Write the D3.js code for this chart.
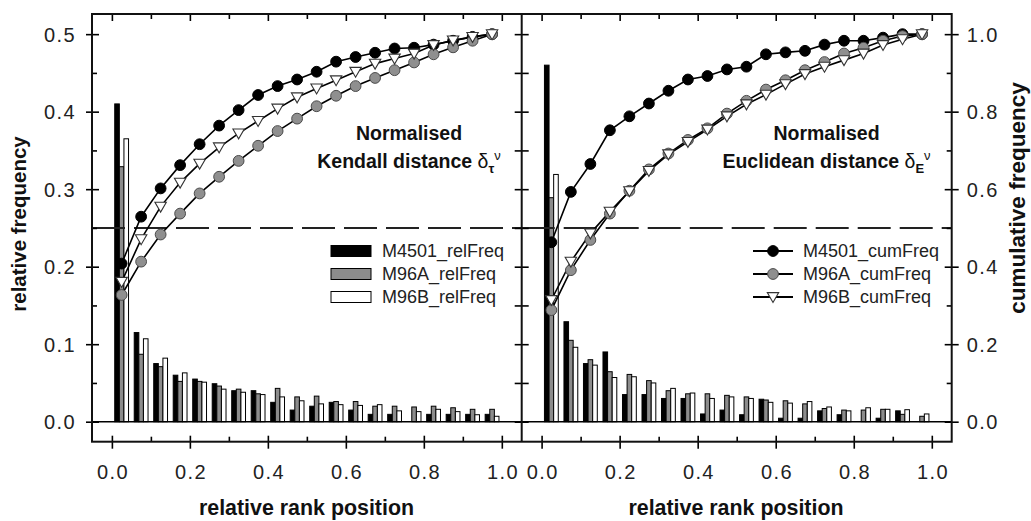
<!DOCTYPE html>
<html>
<head>
<meta charset="utf-8">
<script src="https://cdn.jsdelivr.net/npm/d3@7/dist/d3.min.js"></script>
<style>
  html, body { margin: 0; padding: 0; background: #fff; }
  svg { display: block; font-family: "Liberation Sans", Arial, Helvetica, sans-serif; }
</style>
</head>
<body>
<svg id="chart" width="1031" height="521"></svg>
<script>
// ---------------- data ----------------
const rankPos = [0.025, 0.075, 0.125, 0.175, 0.225, 0.275, 0.325, 0.375, 0.425, 0.475,
                 0.525, 0.575, 0.625, 0.675, 0.725, 0.775, 0.825, 0.875, 0.925, 0.975];

const seriesNames = ["M4501", "M96A", "M96B"];
const xTicks = [0, 0.2, 0.4, 0.6, 0.8, 1.0];
const relTicks = [0, 0.1, 0.2, 0.3, 0.4, 0.5];
const cumTicks = [0, 0.2, 0.4, 0.6, 0.8, 1.0];

// Kendall distance panel
const kenM4501Rel = [0.410, 0.115, 0.075, 0.060, 0.055, 0.049, 0.040, 0.040, 0.025, 0.015,
                     0.020, 0.025, 0.015, 0.0095, 0.0095, 0, 0.0095, 0.0095, 0.0095, 0.0095];
const kenM96ARel  = [0.329, 0.087, 0.071, 0.052, 0.052, 0.046, 0.042, 0.036, 0.043, 0.032,
                     0.033, 0.026, 0.026, 0.020, 0.020, 0.019, 0.020, 0.018, 0.016, 0.016];
const kenM96BRel  = [0.365, 0.107, 0.082, 0.063, 0.051, 0.042, 0.038, 0.035, 0.032, 0.027,
                     0.023, 0.022, 0.021, 0.022, 0.014, 0.013, 0.016, 0.013, 0.009, 0.007];
const kenM4501Cum = [0.408, 0.529, 0.602, 0.662, 0.716, 0.764, 0.804, 0.843, 0.866, 0.883,
                     0.903, 0.929, 0.941, 0.952, 0.963, 0.965, 0.973, 0.983, 0.993, 1.000];
const kenM96ACum  = [0.327, 0.413, 0.483, 0.537, 0.589, 0.632, 0.673, 0.712, 0.750, 0.782,
                     0.814, 0.841, 0.866, 0.887, 0.907, 0.927, 0.948, 0.966, 0.983, 1.000];
const kenM96BCum  = [0.361, 0.471, 0.555, 0.617, 0.666, 0.708, 0.744, 0.776, 0.808, 0.837,
                     0.860, 0.881, 0.903, 0.924, 0.937, 0.950, 0.972, 0.984, 0.993, 1.000];

// Euclidean distance panel
const eucM4501Rel = [0.460, 0.129, 0.075, 0.090, 0.035, 0.035, 0.030, 0.030, 0.010, 0.015,
                     0.009, 0.029, 0.0045, 0.0045, 0.014, 0.009, 0, 0.0045, 0.014, 0];
const eucM96ARel  = [0.289, 0.105, 0.080, 0.0645, 0.061, 0.053, 0.040, 0.036, 0.036, 0.034,
                     0.032, 0.028, 0.027, 0.023, 0.017, 0.015, 0.015, 0.016, 0.0095, 0.007];
const eucM96BRel  = [0.319, 0.096, 0.073, 0.057, 0.058, 0.050, 0.043, 0.037, 0.030, 0.032,
                     0.030, 0.025, 0.024, 0.026, 0.019, 0.014, 0.018, 0.016, 0.0155, 0.010];
const eucM4501Cum = [0.463, 0.593, 0.665, 0.752, 0.788, 0.821, 0.854, 0.883, 0.892, 0.909,
                     0.916, 0.948, 0.953, 0.957, 0.973, 0.983, 0.983, 0.991, 1.000, 1.000];
const eucM96ACum  = [0.288, 0.391, 0.469, 0.537, 0.596, 0.651, 0.692, 0.727, 0.757, 0.795,
                     0.828, 0.857, 0.881, 0.907, 0.928, 0.950, 0.965, 0.983, 0.995, 1.000];
const eucM96BCum  = [0.314, 0.413, 0.486, 0.542, 0.595, 0.647, 0.690, 0.722, 0.754, 0.788,
                     0.819, 0.844, 0.871, 0.897, 0.916, 0.933, 0.950, 0.972, 0.987, 1.000];

// ---------------- layout ----------------
const svg = d3.select("#chart");
const plotTop = 14, plotBottom = 441.7;
const xL0 = 92, xMid = 521.7, xR1 = 951.7;
const xDomain = [-0.051, 1.051];
const xLeft = d3.scaleLinear().domain(xDomain).range([xL0, xMid]);
const xRight = d3.scaleLinear().domain(xDomain).range([xMid, xR1]);
const yRel = d3.scaleLinear().domain([-0.0258, 0.526]).range([plotBottom, plotTop]);
const yCum = d3.scaleLinear().domain([-0.0516, 1.052]).range([plotBottom, plotTop]);

const barFill = ["#000000", "#8c8c8c", "#ffffff"];
const barW = 0.0118;
const tickFont = 20;

function drawMarker(g, k, cx, cy) {
  if (k === 0) {
    g.append("circle").attr("cx", cx).attr("cy", cy).attr("r", 5.4)
      .attr("fill", "#000").attr("stroke", "#000").attr("stroke-width", 1);
  } else if (k === 1) {
    g.append("circle").attr("cx", cx).attr("cy", cy).attr("r", 5.4)
      .attr("fill", "#8f8f8f").attr("stroke", "#4a4a4a").attr("stroke-width", 1);
  } else {
    g.append("path")
      .attr("d", `M${cx - 5.7},${cy - 4.4}L${cx + 5.7},${cy - 4.4}L${cx},${cy + 5.5}Z`)
      .attr("fill", "#fff").attr("stroke", "#333").attr("stroke-width", 1.1);
  }
}

function drawPanel(x, rel, cum) {
  const g = svg.append("g");
  rel.forEach((vals, k) => {
    g.append("g").selectAll("rect")
      .data(vals.map((v, i) => ({x: rankPos[i], v})).filter(d => d.v > 0))
      .join("rect")
      .attr("x", d => x(d.x + (k - 1.5) * barW))
      .attr("width", d => x(d.x + (k - 0.5) * barW) - x(d.x + (k - 1.5) * barW))
      .attr("y", d => yRel(d.v))
      .attr("height", d => yRel(0) - yRel(d.v))
      .attr("fill", barFill[k])
      .attr("stroke", "#000")
      .attr("stroke-width", 1);
  });
  g.append("line")
    .attr("x1", x.range()[0]).attr("x2", x.range()[1])
    .attr("y1", yCum(0.5)).attr("y2", yCum(0.5))
    .attr("stroke", "#222").attr("stroke-width", 2)
    .attr("stroke-dasharray", "33,9");
  const line = d3.line().x((d, i) => x(rankPos[i])).y(d => yCum(d));
  cum.forEach((vals) => {
    g.append("path").datum(vals).attr("d", line)
      .attr("fill", "none").attr("stroke", "#000").attr("stroke-width", 1.6);
  });
  cum.forEach((vals, k) => {
    const mg = g.append("g");
    vals.forEach((v, i) => drawMarker(mg, k, x(rankPos[i]), yCum(v)));
  });
}

drawPanel(xLeft, [kenM4501Rel, kenM96ARel, kenM96BRel], [kenM4501Cum, kenM96ACum, kenM96BCum]);
drawPanel(xRight, [eucM4501Rel, eucM96ARel, eucM96BRel], [eucM4501Cum, eucM96ACum, eucM96BCum]);

svg.append("line").attr("x1", xL0).attr("x2", xR1)
  .attr("y1", yRel(0)).attr("y2", yRel(0))
  .attr("stroke", "#000").attr("stroke-width", 1.6);

// ---------------- axes ----------------
function styleAxis(sel) {
  sel.select(".domain").remove();
  sel.selectAll(".tick line").attr("stroke", "#000").attr("stroke-width", 1.6);
  sel.selectAll("text").attr("fill", "#222").attr("font-size", tickFont)
    .attr("font-family", "'Liberation Sans', Arial, sans-serif")
    .attr("letter-spacing", "1.4px");
}
const fmt = d3.format(".1f");
const minorX = [0.1, 0.3, 0.5, 0.7, 0.9];

[xLeft, xRight].forEach(x => {
  const gb = svg.append("g").attr("transform", `translate(0,${plotBottom})`)
    .call(d3.axisBottom(x).tickValues(xTicks).tickFormat(fmt).tickSize(7).tickSizeOuter(0));
  styleAxis(gb);
  gb.selectAll(".tick line").attr("y1", -6).attr("y2", 7);
  gb.selectAll(".tick text").attr("x", 0.7).attr("y", 37).attr("dy", "0");
  const gbm = svg.append("g").attr("transform", `translate(0,${plotBottom})`)
    .call(d3.axisBottom(x).tickValues(minorX).tickFormat("").tickSize(-5).tickSizeOuter(0));
  styleAxis(gbm);
  const gt = svg.append("g").attr("transform", `translate(0,${plotTop})`)
    .call(d3.axisTop(x).tickValues(xTicks).tickFormat("").tickSize(-7).tickSizeOuter(0));
  styleAxis(gt);
  const gtm = svg.append("g").attr("transform", `translate(0,${plotTop})`)
    .call(d3.axisTop(x).tickValues(minorX).tickFormat("").tickSize(-5).tickSizeOuter(0));
  styleAxis(gtm);
});

const gl = svg.append("g").attr("transform", `translate(${xL0},0)`)
  .call(d3.axisLeft(yRel).tickValues(relTicks).tickFormat(fmt).tickSize(6).tickSizeOuter(0));
styleAxis(gl);
gl.selectAll(".tick line").attr("x1", 7).attr("x2", -6);
gl.selectAll(".tick text").attr("x", -16).attr("dy", "0.35em");
const glm = svg.append("g").attr("transform", `translate(${xL0},0)`)
  .call(d3.axisLeft(yRel).tickValues([0.05, 0.15, 0.25, 0.35, 0.45]).tickFormat("").tickSize(-5).tickSizeOuter(0));
styleAxis(glm);

const gm1 = svg.append("g").attr("transform", `translate(${xMid},0)`)
  .call(d3.axisRight(yRel).tickValues([0, 0.05, 0.1, 0.15, 0.2, 0.25, 0.3, 0.35, 0.4, 0.45, 0.5]).tickFormat("").tickSize(-7).tickSizeOuter(0));
styleAxis(gm1);
const gm2 = svg.append("g").attr("transform", `translate(${xMid},0)`)
  .call(d3.axisLeft(yCum).tickValues([0, 0.1, 0.2, 0.3, 0.4, 0.5, 0.6, 0.7, 0.8, 0.9, 1.0]).tickFormat("").tickSize(-7).tickSizeOuter(0));
styleAxis(gm2);

const gr = svg.append("g").attr("transform", `translate(${xR1},0)`)
  .call(d3.axisRight(yCum).tickValues(cumTicks).tickFormat(fmt).tickSize(7).tickSizeOuter(0));
styleAxis(gr);
gr.selectAll(".tick line").attr("x1", -7).attr("x2", 7);
gr.selectAll(".tick text").attr("x", 15).attr("dy", "0.35em");
const grm = svg.append("g").attr("transform", `translate(${xR1},0)`)
  .call(d3.axisRight(yCum).tickValues([0.1, 0.3, 0.5, 0.7, 0.9]).tickFormat("").tickSize(-5).tickSizeOuter(0));
styleAxis(grm);

svg.append("rect").attr("x", xL0).attr("y", plotTop).attr("width", xR1 - xL0).attr("height", plotBottom - plotTop)
  .attr("fill", "none").attr("stroke", "#111").attr("stroke-width", 2);
svg.append("line").attr("x1", xMid).attr("x2", xMid).attr("y1", plotTop).attr("y2", plotBottom)
  .attr("stroke", "#111").attr("stroke-width", 2);

// ---------------- titles ----------------
svg.append("text").attr("transform", `translate(26,224) rotate(-90)`)
  .attr("text-anchor", "middle").attr("font-weight", "bold").attr("font-size", 20.5)
  .attr("fill", "#111").text("relative frequency");
svg.append("text").attr("transform", `translate(1025,198) rotate(-90)`)
  .attr("text-anchor", "middle").attr("font-weight", "bold").attr("font-size", 22.5)
  .attr("fill", "#111").text("cumulative frequency");
svg.append("text").attr("x", 306.5).attr("y", 515)
  .attr("text-anchor", "middle").attr("font-weight", "bold").attr("font-size", 21.4)
  .attr("fill", "#111").text("relative rank position");
svg.append("text").attr("x", 736).attr("y", 515)
  .attr("text-anchor", "middle").attr("font-weight", "bold").attr("font-size", 21.4)
  .attr("fill", "#111").text("relative rank position");

function annotation(cx, main, sub) {
  svg.append("text").attr("x", cx).attr("y", 140).attr("text-anchor", "middle")
    .attr("font-weight", "bold").attr("font-size", 19.5).attr("fill", "#111").text("Normalised");
  const t = svg.append("text").attr("x", cx).attr("y", 168).attr("text-anchor", "middle")
    .attr("font-weight", "bold").attr("font-size", 19.5).attr("fill", "#111");
  t.append("tspan").text(main + " ");
  t.append("tspan").attr("font-weight", "normal").text("δ");
  t.append("tspan").attr("font-size", 13).attr("dy", 5).text(sub);
  t.append("tspan").attr("font-size", 13).attr("font-weight", "normal").attr("dy", -13).text("ν");
}
annotation(409, "Kendall distance", "τ");
annotation(826.5, "Euclidean distance", "E");

const legRows = [251, 274, 297];
const relLabels = seriesNames.map(s => s + "_relFreq");
const cumLabels = seriesNames.map(s => s + "_cumFreq");
relLabels.forEach((lab, k) => {
  svg.append("rect").attr("x", 331).attr("y", legRows[k] - 5.5).attr("width", 40).attr("height", 11)
    .attr("fill", barFill[k]).attr("stroke", "#000").attr("stroke-width", 1);
  svg.append("text").attr("x", 382).attr("y", legRows[k]).attr("dy", "0.36em")
    .attr("font-size", 18).attr("fill", "#222").text(lab);
});
cumLabels.forEach((lab, k) => {
  svg.append("line").attr("x1", 753).attr("x2", 793).attr("y1", legRows[k]).attr("y2", legRows[k])
    .attr("stroke", "#000").attr("stroke-width", 2);
  drawMarker(svg, k, 773, legRows[k]);
  svg.append("text").attr("x", 803).attr("y", legRows[k]).attr("dy", "0.36em")
    .attr("font-size", 18).attr("fill", "#222").text(lab);
});
</script>
</body>
</html>
